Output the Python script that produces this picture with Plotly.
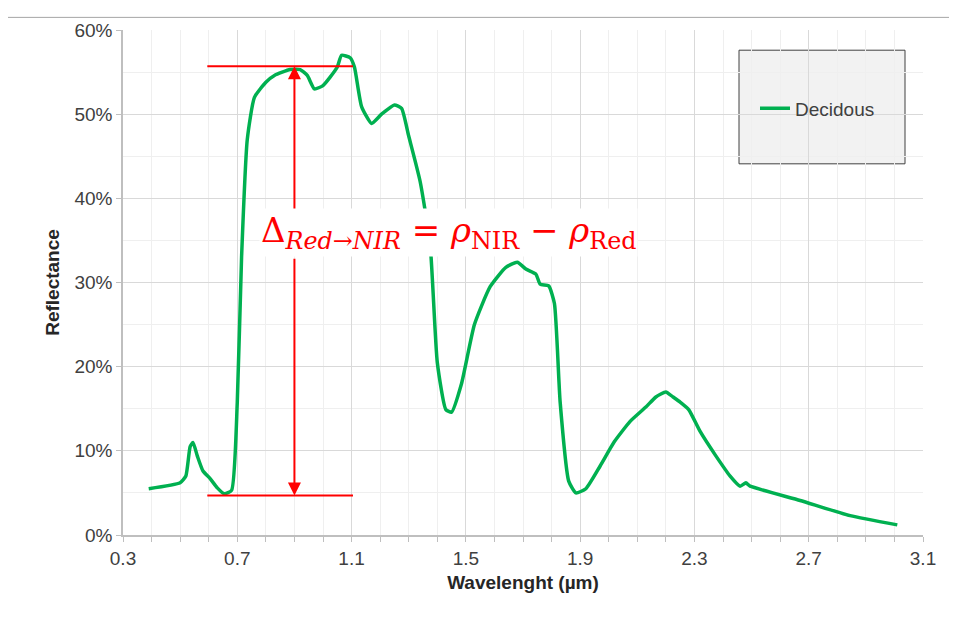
import plotly.graph_objects as go

wl = [0.39,0.50,0.52,0.535,0.545,0.56,0.58,0.605,0.63,0.655,0.68,0.70,0.715,0.735,0.76,0.80,0.83,0.885,0.92,0.945,0.97,1.0,1.025,1.05,1.065,1.095,1.11,1.135,1.17,1.205,1.25,1.275,1.30,1.34,1.375,1.40,1.43,1.45,1.485,1.53,1.585,1.64,1.68,1.71,1.745,1.76,1.79,1.81,1.83,1.86,1.885,1.92,1.97,2.02,2.075,2.13,2.165,2.2,2.225,2.25,2.28,2.32,2.375,2.425,2.46,2.48,2.495,2.67,2.845,3.01]
refl = [5.5,6.2,7.0,10.5,11.0,9.4,7.6,6.7,5.6,4.9,5.3,15.8,33,47,52,53.8,54.6,55.3,55.3,54.6,53.0,53.4,54.4,55.6,57.0,56.7,55.6,50.9,48.9,50.0,51.1,50.7,47.4,42,34.5,20.5,14.9,14.6,18,25,29.5,31.8,32.4,31.6,31.0,29.8,29.6,27.5,15.8,6.4,5.0,5.5,8.2,11.1,13.5,15.2,16.4,17.0,16.4,15.8,14.9,12.3,9.4,7.0,5.8,6.2,5.8,4.1,2.3,1.2]
refl = [v/100 for v in refl]

nir, red = 0.557, 0.047
xline = [0.595, 1.105]
xarrow = 0.9

fig = go.Figure()
fig.add_trace(go.Scatter(x=wl, y=refl, mode="lines", name="Decidous", showlegend=True,
                         line=dict(color="#00b050", width=3.5, shape="spline", smoothing=0.5)))
for yv in (nir, red):
    fig.add_shape(type="line", x0=xline[0], x1=xline[1], y0=yv, y1=yv, line=dict(color="red", width=2))
fig.add_annotation(x=xarrow, y=nir, ax=xarrow, ay=0.33, axref="x", ayref="y", xref="x", yref="y",
                   text="", showarrow=True, arrowhead=2, arrowsize=1.3, arrowwidth=2, arrowcolor="red")
fig.add_annotation(x=xarrow, y=red, ax=xarrow, ay=0.33, axref="x", ayref="y", xref="x", yref="y",
                   text="", showarrow=True, arrowhead=2, arrowsize=1.3, arrowwidth=2, arrowcolor="red")
fig.add_annotation(x=1.44, y=0.36, xref="x", yref="y", showarrow=False, bgcolor="white",
                   text="Δ<sub><i>Red→NIR</i></sub> = <i>ρ</i><sub>NIR</sub> − <i>ρ</i><sub>Red</sub>",
                   font=dict(color="red", size=34, family="DejaVu Serif"))
# legend box
fig.add_shape(type="rect", xref="paper", yref="paper", x0=0.77, x1=0.9775, y0=0.735, y1=0.96,
              fillcolor="#f2f2f2", line=dict(color="#404040", width=1), layer="below")
fig.add_shape(type="rect", xref="paper", yref="paper", x0=-0.1475, x1=1.046, y0=-0.19, y1=1.025,
              line=dict(color="#a6a6a6", width=1))

fig.update_layout(
    width=957, height=626, margin=dict(l=115, r=42, t=14, b=99),
    paper_bgcolor="white", plot_bgcolor="white",
    font=dict(family="Liberation Sans, Arial", size=19, color="#404040"),
    legend=dict(x=0.79, y=0.845, xanchor="left", yanchor="middle", bgcolor="rgba(0,0,0,0)",
                font=dict(size=19, color="#404040")),
    xaxis=dict(range=[0.3, 3.1], tickvals=[0.3,0.7,1.1,1.5,1.9,2.3,2.7,3.1], ticktext=["0.3","0.7","1.1","1.5","1.9","2.3","2.7","3.1"],
               showgrid=True, gridcolor="#d9d9d9", showline=True, linecolor="#bfbfbf", linewidth=1.5,
               ticks="outside", ticklen=5, tickcolor="#bfbfbf", zeroline=False,
               minor=dict(dtick=0.1, showgrid=True, gridcolor="#efefef", ticks="outside", ticklen=5, tickcolor="#bfbfbf"),
               title=dict(text="<b>Wavelenght (µm)</b>", font=dict(size=19, color="#262626"), standoff=8)),
    yaxis=dict(range=[0, 0.6], dtick=0.1, tickformat=".0%", showgrid=True, gridcolor="#d9d9d9",
               showline=True, linecolor="#bfbfbf", linewidth=1.5, ticks="outside", ticklen=5, tickcolor="#bfbfbf",
               zeroline=False, minor=dict(dtick=0.05, showgrid=True, gridcolor="#efefef"),
               title=dict(text="<b>Reflectance</b>", font=dict(size=19, color="#262626"), standoff=10)),
)
fig.write_html("out.html")
